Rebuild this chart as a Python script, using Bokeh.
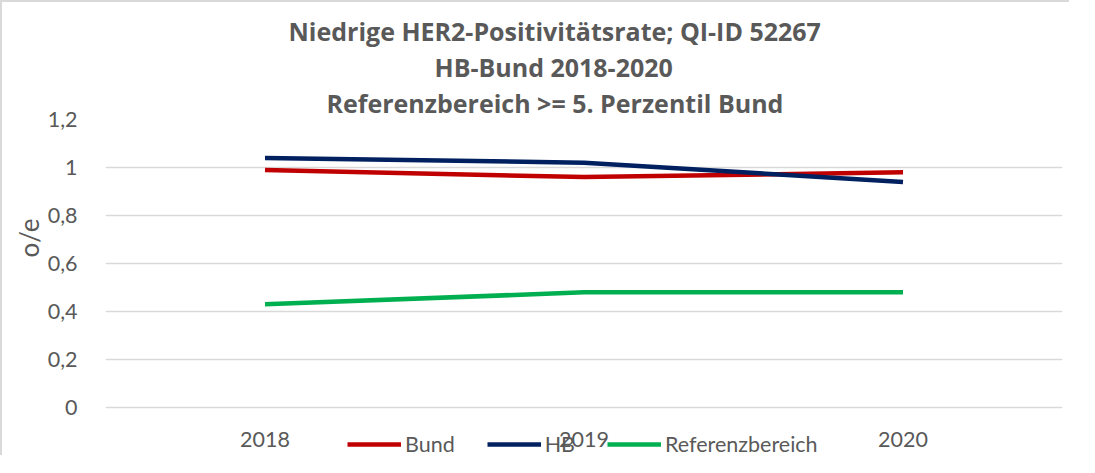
from bokeh.plotting import figure
from bokeh.models import FactorRange, Range1d, FixedTicker, CustomJSTickFormatter, Title
from bokeh.embed import file_html
from bokeh.resources import INLINE

years = ["2018", "2019", "2020"]
bund = [0.99, 0.96, 0.98]
hb = [1.04, 1.02, 0.94]
referenz = [0.43, 0.48, 0.48]
y_ticks = [0, 0.2, 0.4, 0.6, 0.8, 1.0, 1.2]
title_lines = ["Niedrige HER2-Positivitätsrate; QI-ID 52267",
               "HB-Bund 2018-2020",
               "Referenzbereich >= 5. Perzentil Bund"]
title_offsets = [183, 329, 221]
y_label = "o/e"

GRAY = "#595959"

p = figure(width=1069, height=455, output_backend="svg", toolbar_location=None,
           x_range=FactorRange(*years, range_padding=0), y_range=Range1d(-0.208, 1.2),
           min_border_left=86, min_border_right=17, min_border_top=117, min_border_bottom=0)
p.styles = {"border-top": "2px solid #d9d9d9", "border-left": "2px solid #d9d9d9",
            "padding-left": "8px"}

p.title.visible = False
for t, off in reversed(list(zip(title_lines, title_offsets))):
    p.add_layout(Title(text=t, align="left", offset=off, text_font="Open Sans",
                       text_font_style="bold", text_font_size="25px",
                       text_color=GRAY, standoff=0, text_line_height=0.9), "above")

p.add_layout(Title(text=y_label, align="left", offset=200, text_font="Lato",
                   text_font_style="normal", text_font_size="26px",
                   text_color=GRAY, standoff=0), "left")

p.outline_line_color = None
p.xgrid.grid_line_color = None
p.ygrid.grid_line_color = "#d9d9d9"
p.ygrid.grid_line_width = 1.5

p.xaxis.fixed_location = 0
p.yaxis.ticker = FixedTicker(ticks=y_ticks)
p.yaxis.formatter = CustomJSTickFormatter(code="""
    var s = tick.toFixed(1);
    if (s.endsWith('.0')) { s = s.slice(0, -2); }
    return s.replace('.', ',');
""")
for ax in (p.xaxis[0], p.yaxis[0]):
    ax.axis_line_color = None
    ax.major_tick_line_color = None
    ax.minor_tick_line_color = None
    ax.major_label_text_font = "Lato"
    ax.major_label_text_font_size = "21.5px"
    ax.major_label_text_color = GRAY
p.yaxis.major_label_standoff = 22
p.xaxis.major_label_standoff = 18

p.line(years, bund, line_color="#C00000", line_width=4.5, legend_label="Bund")
p.line(years, hb, line_color="#002060", line_width=4.5, legend_label="HB")
p.line(years, referenz, line_color="#00B050", line_width=4.5, legend_label="Referenzbereich")

lg = p.legend[0]
lg.orientation = "horizontal"
lg.location = (242, 0)
lg.background_fill_alpha = 0
lg.border_line_color = None
lg.padding = 0
lg.margin = 0
lg.spacing = 32
lg.glyph_width = 54
lg.label_standoff = 4
lg.label_text_font = "Lato"
lg.label_text_font_size = "21.5px"
lg.label_text_color = GRAY

open("out.html", "w").write(file_html(p, INLINE))
